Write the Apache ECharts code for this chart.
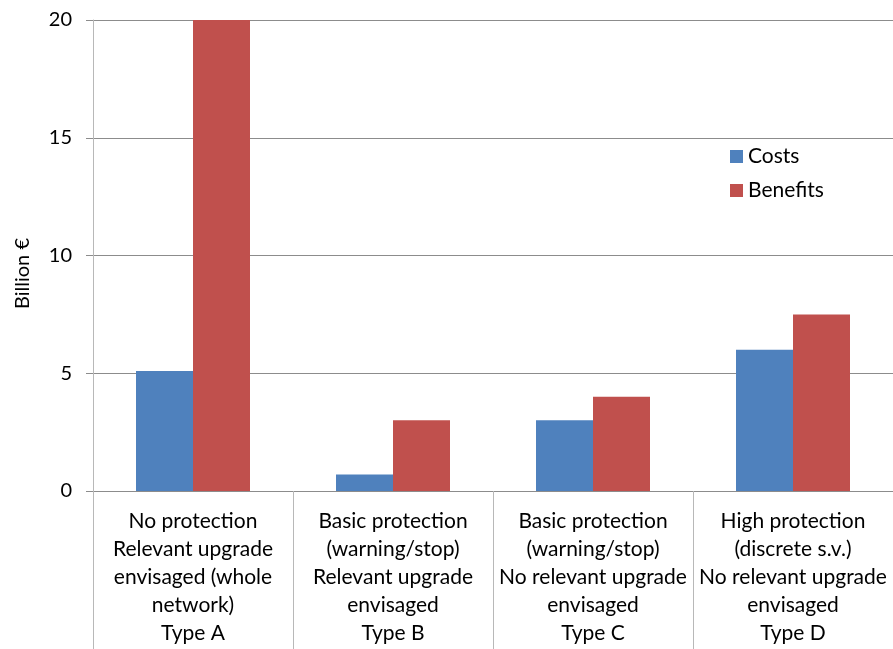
<!DOCTYPE html>
<html>
<head>
<meta charset="utf-8">
<script src="https://cdn.jsdelivr.net/npm/echarts@6/dist/echarts.min.js"></script>
<style>
html,body{margin:0;padding:0;background:#fff;}
#chart{width:893px;height:649px;}
</style>
</head>
<body>
<div id="chart"></div>
<script>
var categories = [
  "No protection\nRelevant upgrade\nenvisaged (whole\nnetwork)\nType A",
  "Basic protection\n(warning/stop)\nRelevant upgrade\nenvisaged\nType B",
  "Basic protection\n(warning/stop)\nNo relevant upgrade\nenvisaged\nType C",
  "High protection\n(discrete s.v.)\nNo relevant upgrade\nenvisaged\nType D"
];
var costs = [5.1, 0.7, 3.0, 6.0];
var benefits = [20, 3.0, 4.0, 7.5];
var yTicks = [0, 5, 10, 15, 20];

var FONT = 'Lato';
var chart = echarts.init(document.getElementById('chart'), null, {renderer: 'canvas'});
chart.setOption({
  animation: false,
  backgroundColor: '#ffffff',
  grid: {left: 93, right: 0, top: 20, bottom: 158, containLabel: false},
  legend: {
    orient: 'vertical',
    left: 725, top: 141,
    itemWidth: 13, itemHeight: 13, itemGap: 13,
    icon: 'rect',
    textStyle: {fontFamily: FONT, fontSize: 21, color: '#000'},
    data: ['Costs', 'Benefits']
  },
  xAxis: {
    type: 'category',
    data: categories,
    axisLine: {show: true, lineStyle: {color: '#8c8c8c', width: 1}},
    axisTick: {show: true, length: 158, lineStyle: {color: '#b8b8b8', width: 1}},
    axisLabel: {
      interval: 0, margin: 16,
      fontFamily: FONT, fontSize: 21, lineHeight: 28, color: '#000', align: 'center'
    },
    splitLine: {show: false}
  },
  yAxis: {
    type: 'value',
    min: yTicks[0], max: yTicks[yTicks.length - 1], interval: 5,
    name: 'Billion €',
    nameLocation: 'middle',
    nameGap: 60,
    nameRotate: 90,
    nameTextStyle: {fontFamily: FONT, fontSize: 20, color: '#000', padding: [0, 0, 0, -36]},
    axisLine: {show: true, lineStyle: {color: '#b8b8b8', width: 1}},
    axisTick: {show: true, length: 7, lineStyle: {color: '#8c8c8c'}},
    axisLabel: {margin: 21, fontFamily: FONT, fontSize: 20, color: '#000'},
    splitLine: {show: true, lineStyle: {color: '#8c8c8c', width: 1}}
  },
  series: [
    {
      name: 'Costs', type: 'bar', data: costs,
      barGap: '0%', barCategoryGap: '43%',
      itemStyle: {color: '#4f81bd'}
    },
    {
      name: 'Benefits', type: 'bar', data: benefits,
      barGap: '0%', barCategoryGap: '43%',
      itemStyle: {color: '#c0504d'}
    }
  ]
});
</script>
</body>
</html>
